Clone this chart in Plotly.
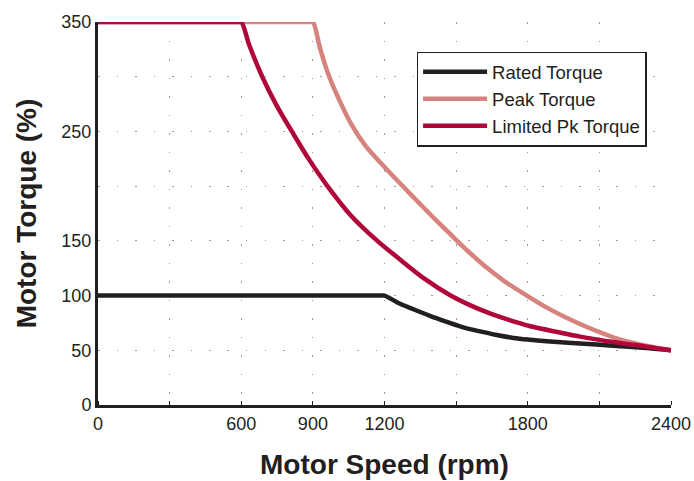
import plotly.graph_objects as go

# Data
rated_speed = [0, 1190, 1200, 1256, 1321, 1390, 1461, 1530, 1600, 1670, 1740, 1810, 1879, 2019, 2158, 2298, 2400]
rated_torque = [100, 100, 100, 93.5, 87.5, 81.5, 76, 71, 67.3, 64, 61.3, 59.6, 58.3, 56.2, 54.2, 52, 50]

peak_speed = [0, 890, 900, 930, 965, 1010, 1060, 1120, 1200, 1272, 1350, 1420, 1481, 1550,
              1620, 1700, 1796, 1880, 1960, 2040, 2120, 2200, 2300, 2400]
peak_torque = [350, 350, 350, 326, 302, 279, 257, 237, 217.5, 201, 183.5, 168, 155, 140.5,
               127, 113.5, 100, 89, 80, 72, 65, 59, 54, 50]

limited_speed = [0, 590, 600, 635, 688, 745, 812, 885, 958, 1060, 1170, 1265, 1370, 1477,
                 1560, 1650, 1740, 1830, 1930, 2019, 2158, 2298, 2400]
limited_torque = [350, 350, 350, 328, 300, 275, 250, 224, 201, 173, 150, 133, 115, 100,
                  91, 83, 76.5, 71, 66.5, 62.5, 57.5, 53.3, 50]

x_tickvals = [0, 600, 900, 1200, 1800, 2400]
y_tickvals = [0, 50, 100, 150, 250, 350]

series = [
    ("Rated Torque", rated_speed, rated_torque, "#231f20"),
    ("Peak Torque", peak_speed, peak_torque, "#d6837e"),
    ("Limited Pk Torque", limited_speed, limited_torque, "#b0063a"),
]

fig = go.Figure()
for name, xs, ys, col in series:
    fig.add_trace(go.Scatter(x=xs, y=ys, mode="lines", name=name, legendgroup=name,
                             line=dict(color=col, width=4.5, shape="spline", smoothing=1),
                             cliponaxis=False))

font_family = "Liberation Sans, Arial, sans-serif"
grid_col = "#9a9a9a"
dash = "1.5px,17px"

fig.update_layout(
    width=694, height=481,
    margin=dict(l=98, r=23, t=22, b=76),
    paper_bgcolor="white", plot_bgcolor="white",
    font=dict(family=font_family, color="#231f20", size=18),
    showlegend=True,
    legend=dict(x=0.556, y=0.9225, xanchor="left", yanchor="top",
                bgcolor="white", bordercolor="#231f20", borderwidth=1.5,
                font=dict(size=18.5, family=font_family, color="#231f20"),
                tracegroupgap=0, itemwidth=64),
    xaxis=dict(
        range=[0, 2400], tickvals=x_tickvals, ticktext=[str(v) for v in x_tickvals],
        showline=True, linecolor="#231f20", linewidth=3, automargin=False,
        ticks="", showgrid=True, gridcolor=grid_col, griddash=dash, gridwidth=1,
        zeroline=False,
        minor=dict(dtick=300, tick0=0, showgrid=True, gridcolor=grid_col, griddash=dash,
                   ticks="inside", ticklen=4, tickcolor="#231f20"),
        tickfont=dict(size=18),
        title=dict(text="<b>Motor Speed (rpm)</b>", font=dict(size=28), standoff=22),
    ),
    yaxis=dict(
        range=[0, 350], tickvals=y_tickvals, ticktext=[str(v) for v in y_tickvals],
        showline=True, linecolor="#231f20", linewidth=3, automargin=False,
        ticks="", showgrid=True, gridcolor=grid_col, griddash=dash, gridwidth=1,
        zeroline=False,
        minor=dict(dtick=50, tick0=0, showgrid=True, gridcolor=grid_col, griddash=dash),
        tickfont=dict(size=18),
        title=dict(text="<b>Motor Torque (%)</b>", font=dict(size=28), standoff=17),
    ),
)

fig.write_html("out.html", config={"displayModeBar": False},
               post_script="document.body.style.margin='0';document.body.style.padding='0';")
